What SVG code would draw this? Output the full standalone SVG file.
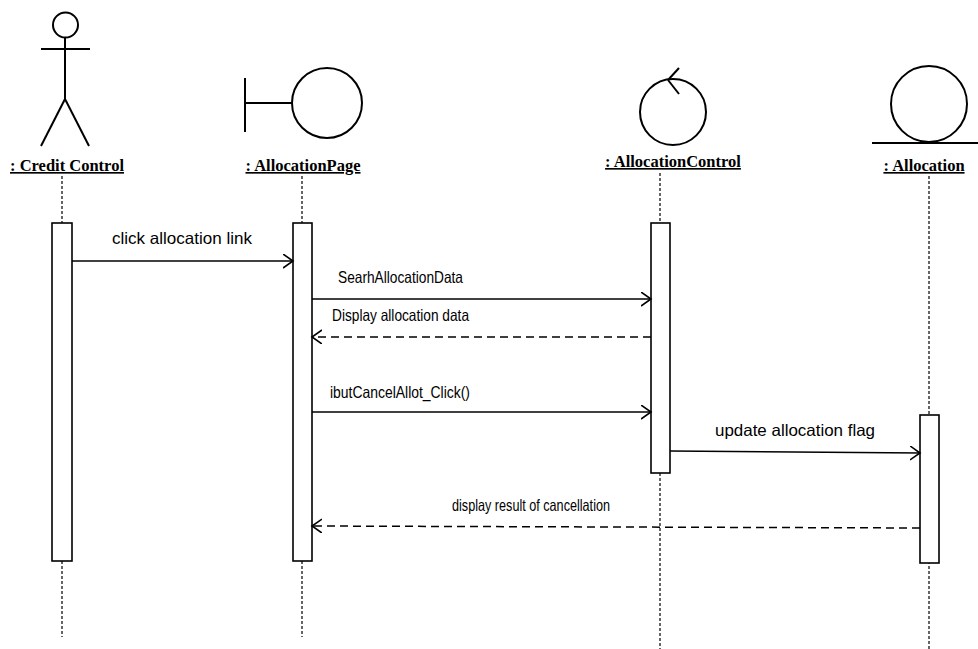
<svg xmlns="http://www.w3.org/2000/svg" width="978" height="649" viewBox="0 0 978 649">
<defs>
<style>
.sym{fill:none;stroke:#000;stroke-width:2}
.life{fill:none;stroke:#000;stroke-width:1.2;stroke-dasharray:3,2}
.act{fill:#fff;stroke:#000;stroke-width:1.6}
.head{font-family:"Liberation Serif","Times New Roman",serif;font-weight:bold;font-size:16.5px;text-anchor:middle;text-decoration:underline}
.msg{fill:none;stroke:#000;stroke-width:1.5}
.ret{fill:none;stroke:#000;stroke-width:1.5;stroke-dasharray:8,5}
.lbl{font-family:"Liberation Sans",Arial,sans-serif;font-size:16.5px;text-anchor:middle;fill:#000}
</style>
<marker id="arr" markerUnits="userSpaceOnUse" markerWidth="12" markerHeight="16" refX="10" refY="7" orient="auto" viewBox="0 0 12 16">
<path d="M0,0 L10,7 L0,14" fill="none" stroke="#000" stroke-width="1.6"/>
</marker>
</defs>
<rect width="978" height="649" fill="#fff"/>

<g id="credit-control">
<circle class="sym" cx="65.5" cy="25" r="12.5"/>
<line class="sym" x1="41" y1="49" x2="90" y2="49"/>
<line class="sym" x1="65" y1="37.5" x2="65" y2="99"/>
<line class="sym" x1="65" y1="99" x2="41" y2="146"/>
<line class="sym" x1="65" y1="99" x2="89" y2="146"/>
<text class="head" x="67" y="171">: Credit Control</text>
<line class="life" x1="62" y1="176" x2="62" y2="637"/>
<rect class="act" x="52" y="223" width="20" height="338"/>
</g>

<g id="allocation-page">
<line class="sym" x1="245" y1="78" x2="245" y2="132"/>
<line class="sym" x1="245" y1="103" x2="293" y2="103"/>
<circle class="sym" cx="327" cy="103" r="35"/>
<text class="head" x="303" y="171">: AllocationPage</text>
<line class="life" x1="302" y1="176" x2="302" y2="637"/>
<rect class="act" x="293" y="223" width="19" height="338"/>
</g>

<g id="allocation-control">
<circle class="sym" cx="673" cy="112" r="33"/>
<line class="sym" x1="668" y1="80" x2="679" y2="68"/>
<line class="sym" x1="668" y1="80" x2="679" y2="94"/>
<text class="head" x="673" y="167">: AllocationControl</text>
<line class="life" x1="660" y1="173" x2="660" y2="649"/>
<rect class="act" x="651" y="223" width="19" height="250"/>
</g>

<g id="allocation">
<circle class="sym" cx="929" cy="104" r="38"/>
<line class="sym" x1="872" y1="143" x2="978" y2="143"/>
<text class="head" x="924" y="171">: Allocation</text>
<line class="life" x1="929" y1="176" x2="929" y2="649"/>
<rect class="act" x="920" y="415" width="19" height="148"/>
</g>

<g id="connectors">
<line class="msg" x1="72" y1="261" x2="293" y2="261" marker-end="url(#arr)"/>
<text class="lbl" x="182" y="244" textLength="140" lengthAdjust="spacingAndGlyphs">click allocation link</text>
<line class="msg" x1="312" y1="299" x2="651" y2="299" marker-end="url(#arr)"/>
<text class="lbl" x="400.5" y="283" textLength="125" lengthAdjust="spacingAndGlyphs">SearhAllocationData</text>
<line class="ret" x1="651" y1="337" x2="312" y2="337" marker-end="url(#arr)"/>
<text class="lbl" x="400.5" y="321" textLength="137" lengthAdjust="spacingAndGlyphs">Display allocation data</text>
<line class="msg" x1="312" y1="412" x2="651" y2="412" marker-end="url(#arr)"/>
<text class="lbl" x="400" y="398" textLength="140" lengthAdjust="spacingAndGlyphs">ibutCancelAllot_Click()</text>
<line class="msg" x1="670" y1="451" x2="920" y2="453" marker-end="url(#arr)"/>
<text class="lbl" x="795" y="436" textLength="160" lengthAdjust="spacingAndGlyphs">update allocation flag</text>
<line class="ret" x1="920" y1="528" x2="312" y2="526" marker-end="url(#arr)"/>
<text class="lbl" x="531" y="511" textLength="158" lengthAdjust="spacingAndGlyphs">display result of cancellation</text>
</g>
</svg>
